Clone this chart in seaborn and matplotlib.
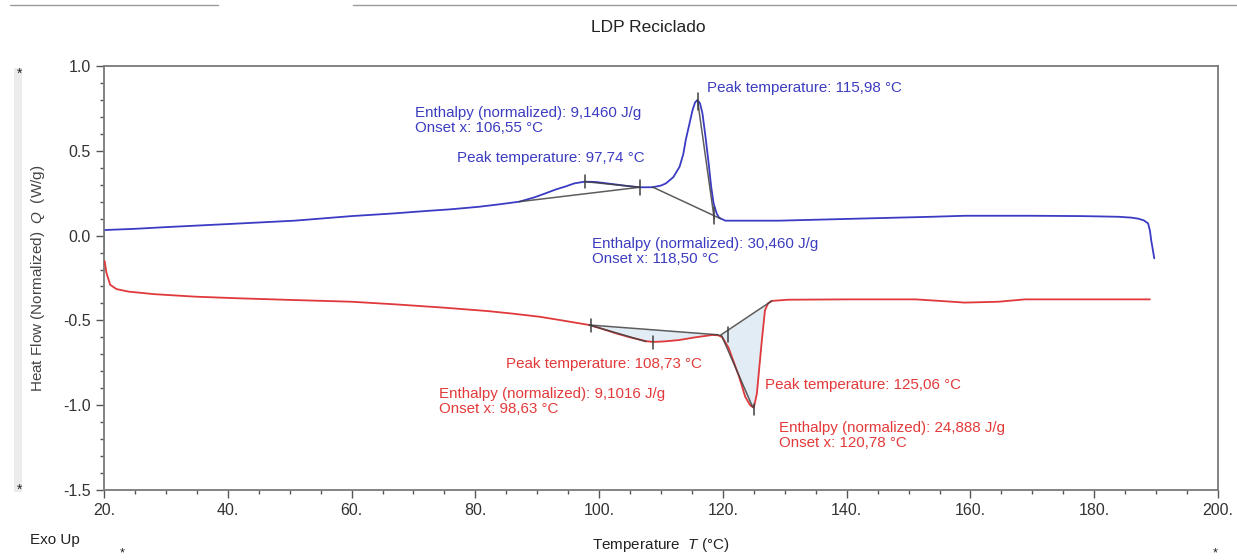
import numpy as np
import pandas as pd
import seaborn as sns
import matplotlib
matplotlib.use("Agg")
import matplotlib.pyplot as plt
from matplotlib.ticker import MultipleLocator, FuncFormatter
from matplotlib.lines import Line2D
from matplotlib.patches import Rectangle

# ---------------- data ----------------
heat_x = [20.2, 25, 30, 40, 50.8, 60, 66.9, 72, 76, 80.6, 84, 87.1, 89.5, 91.4, 93, 94.6, 96,
          97.7, 99.5, 102.1, 104.5, 106.5, 108.6, 110, 110.8, 112, 113, 113.6, 114, 114.6,
          115.1, 115.5, 115.9, 116.3, 116.7, 117.2, 117.7, 118.1, 118.5, 119, 119.4, 120.4,
          122.6, 129, 137.6, 145, 153.8, 159.1, 169.9, 178, 183.9, 186, 187.1, 188, 188.7,
          189, 189.2, 189.5, 189.7]
heat_y = [0.033, 0.04, 0.05, 0.068, 0.088, 0.115, 0.131, 0.145, 0.155, 0.17, 0.185, 0.20, 0.225,
          0.25, 0.272, 0.29, 0.308, 0.318, 0.316, 0.304, 0.293, 0.285, 0.285, 0.295, 0.308,
          0.345, 0.406, 0.48, 0.564, 0.66, 0.74, 0.785, 0.80, 0.78, 0.72, 0.58, 0.426, 0.29,
          0.19, 0.13, 0.105, 0.088, 0.088, 0.088, 0.096, 0.103, 0.111, 0.117, 0.117, 0.115,
          0.111, 0.106, 0.10, 0.09, 0.072, 0.03, -0.026, -0.09, -0.134]

cool_x = [20.1, 20.4, 21, 22, 23.9, 28, 34.7, 42, 50.8, 60, 66.9, 75, 82, 86, 90.3, 94, 98.4,
          100.5, 102.7, 105, 107.5, 108.7, 110.5, 112.9, 115.5, 118.3, 119.3, 119.9, 120.9,
          121.8, 122.6, 123.6, 124.4, 125.0, 125.5, 125.8, 126.3, 126.8, 127.3, 127.9, 130.6,
          140, 151.1, 155, 159.1, 164.5, 168.8, 189]
cool_y = [-0.15, -0.22, -0.29, -0.315, -0.33, -0.345, -0.36, -0.37, -0.38, -0.39, -0.405,
          -0.425, -0.445, -0.46, -0.478, -0.5, -0.527, -0.55, -0.576, -0.60, -0.622, -0.627,
          -0.624, -0.616, -0.60, -0.586, -0.588, -0.60, -0.66, -0.75, -0.83, -0.95, -1.0,
          -1.015, -0.93, -0.81, -0.616, -0.44, -0.40, -0.385, -0.378, -0.376, -0.376, -0.385,
          -0.395, -0.39, -0.376, -0.376]

start_x = [20.0, 20.0]
start_y = [-0.10, 0.033]

# construction lines (baselines / tangents)
heat_lines = [([87.1, 106.55], [0.20, 0.285]),
              ([97.74, 106.55], [0.318, 0.285]),
              ([108.6, 119.6], [0.287, 0.10]),
              ([115.9, 118.6], [0.80, 0.10])]
cool_base1 = ([98.4, 119.3], [-0.527, -0.585])
cool_base2 = ([119.5, 127.9], [-0.59, -0.385])
cool_lines = [cool_base1, cool_base2,
              ([98.4, 107.6], [-0.527, -0.625]),
              ([119.8, 124.8], [-0.59, -1.01])]

# marker ticks: (x, y_low, y_high)
heat_marks = [(97.74, 0.28, 0.36), (106.55, 0.24, 0.33), (115.98, 0.74, 0.84), (118.5, 0.07, 0.17)]
cool_marks = [(98.63, -0.57, -0.49), (108.73, -0.67, -0.59), (120.78, -0.63, -0.54), (125.06, -1.06, -0.99)]

heat_notes = [(117.4, 0.87, "Peak temperature: 115,98 °C"),
              (70.2, 0.68, "Enthalpy (normalized): 9,1460 J/g\nOnset x: 106,55 °C"),
              (77.1, 0.46, "Peak temperature: 97,74 °C"),
              (98.9, -0.095, "Enthalpy (normalized): 30,460 J/g\nOnset x: 118,50 °C")]
cool_notes = [(85.0, -0.76, "Peak temperature: 108,73 °C"),
              (74.2, -0.98, "Enthalpy (normalized): 9,1016 J/g\nOnset x: 98,63 °C"),
              (126.8, -0.88, "Peak temperature: 125,06 °C"),
              (129.0, -1.18, "Enthalpy (normalized): 24,888 J/g\nOnset x: 120,78 °C")]

# ---------------- plot ----------------
sns.set_style("white")
plt.rcParams['font.family'] = ['Liberation Sans', 'DejaVu Sans']
plt.rcParams['mathtext.fontset'] = 'custom'
plt.rcParams['mathtext.it'] = 'Liberation Sans:italic'
plt.rcParams['mathtext.rm'] = 'Liberation Sans'

BLUE = "#3b3bc4"
RED = "#e0393b"
BLUE_T = "#3c3cc0"
RED_T = "#e23a3a"
DARK = "#404040"

fig = plt.figure(figsize=(12.37, 5.60), dpi=100)
ax = fig.add_axes([104/1237, 1 - 490/560, (1218 - 104)/1237, (490 - 66)/560])

df_heat = pd.DataFrame({"T": heat_x, "Q": heat_y})
df_cool = pd.DataFrame({"T": cool_x, "Q": cool_y})

# shaded areas of cooling peaks
cx = np.array(cool_x)
cy = np.array(cool_y)
for bx, by in (cool_base1, cool_base2):
    m = (cx >= bx[0]) & (cx <= bx[1])
    xs = np.concatenate([[bx[0]], cx[m], [bx[1]]])
    ys = np.concatenate([[by[0]], cy[m], [by[1]]])
    ax.fill_between(xs, ys, np.interp(xs, bx, by), color="#e2ecf5", lw=0, zorder=1)

sns.lineplot(data=df_heat, x="T", y="Q", ax=ax, color=BLUE, lw=1.3, zorder=3)
sns.lineplot(data=df_cool, x="T", y="Q", ax=ax, color=RED, lw=1.3, zorder=3)
ax.plot(start_x, start_y, color="#3aa03a", lw=1.3, zorder=2)

for lx, ly in heat_lines + cool_lines:
    ax.plot(lx, ly, color=DARK, lw=1.1, alpha=0.85, zorder=4)
for mx, y0, y1 in heat_marks + cool_marks:
    ax.plot([mx, mx], [y0, y1], color=DARK, lw=1.1, zorder=4)

for tx, ty, s in heat_notes:
    ax.text(tx, ty, s, color=BLUE_T, fontsize=10.9, va="center", ha="left", linespacing=1.1)
for tx, ty, s in cool_notes:
    ax.text(tx, ty, s, color=RED_T, fontsize=10.9, va="center", ha="left", linespacing=1.1)

ax.set_xlim(20, 200)
ax.set_ylim(-1.5, 1.0)
ax.xaxis.set_major_locator(MultipleLocator(20))
ax.xaxis.set_minor_locator(MultipleLocator(5))
ax.yaxis.set_major_locator(MultipleLocator(0.5))
ax.yaxis.set_minor_locator(MultipleLocator(0.1))
ax.xaxis.set_major_formatter(FuncFormatter(lambda v, p: f"{v:.0f}."))
ax.yaxis.set_major_formatter(FuncFormatter(lambda v, p: f"{v:.1f}"))
ax.tick_params(axis="both", which="major", direction="out", length=6, width=1, color="#555555",
               labelsize=11.5, labelcolor="#333333", bottom=True, left=True)
ax.tick_params(axis="both", which="minor", direction="out", length=3, width=1, color="#555555",
               bottom=True, left=True)
for sp in ax.spines.values():
    sp.set_color("#7a7a7a")
    sp.set_linewidth(1.3)

ax.set_xlabel("Temperature  $\\it{T}$ (°C)", fontsize=11, color="#222222", labelpad=13)
ax.set_ylabel("Heat Flow (Normalized)  $\\it{Q}$  (W/g)", fontsize=11, color="#444444", labelpad=12)
fig.text(648/1237, 1 - 27/560, "LDP Reciclado", fontsize=12.5, color="#222222",
         ha="center", va="center")

# decorations outside axes
fig.add_artist(Rectangle((14/1237, 1 - 492/560), 8/1237, 424/560, transform=fig.transFigure,
                         facecolor="#ececec", edgecolor="none", zorder=-1))
for yy in (74, 490):
    fig.text(20/1237, 1 - yy/560, "*", fontsize=10, ha="center", va="center", color="#222222")
fig.text(122/1237, 1 - 553/560, "*", fontsize=9, ha="center", va="center", color="#222222")
fig.text(1215/1237, 1 - 553/560, "*", fontsize=9, ha="center", va="center", color="#222222")
fig.text(30/1237, 1 - 540/560, "Exo Up", fontsize=11, ha="left", va="center", color="#222222")
fig.add_artist(Line2D([10/1237, 218/1237], [1 - 5/560, 1 - 5/560], transform=fig.transFigure,
                      color="#9a9a9a", lw=1))
fig.add_artist(Line2D([353/1237, 1.0], [1 - 5/560, 1 - 5/560], transform=fig.transFigure,
                      color="#9a9a9a", lw=1))

fig.savefig("out.png", dpi=100)
